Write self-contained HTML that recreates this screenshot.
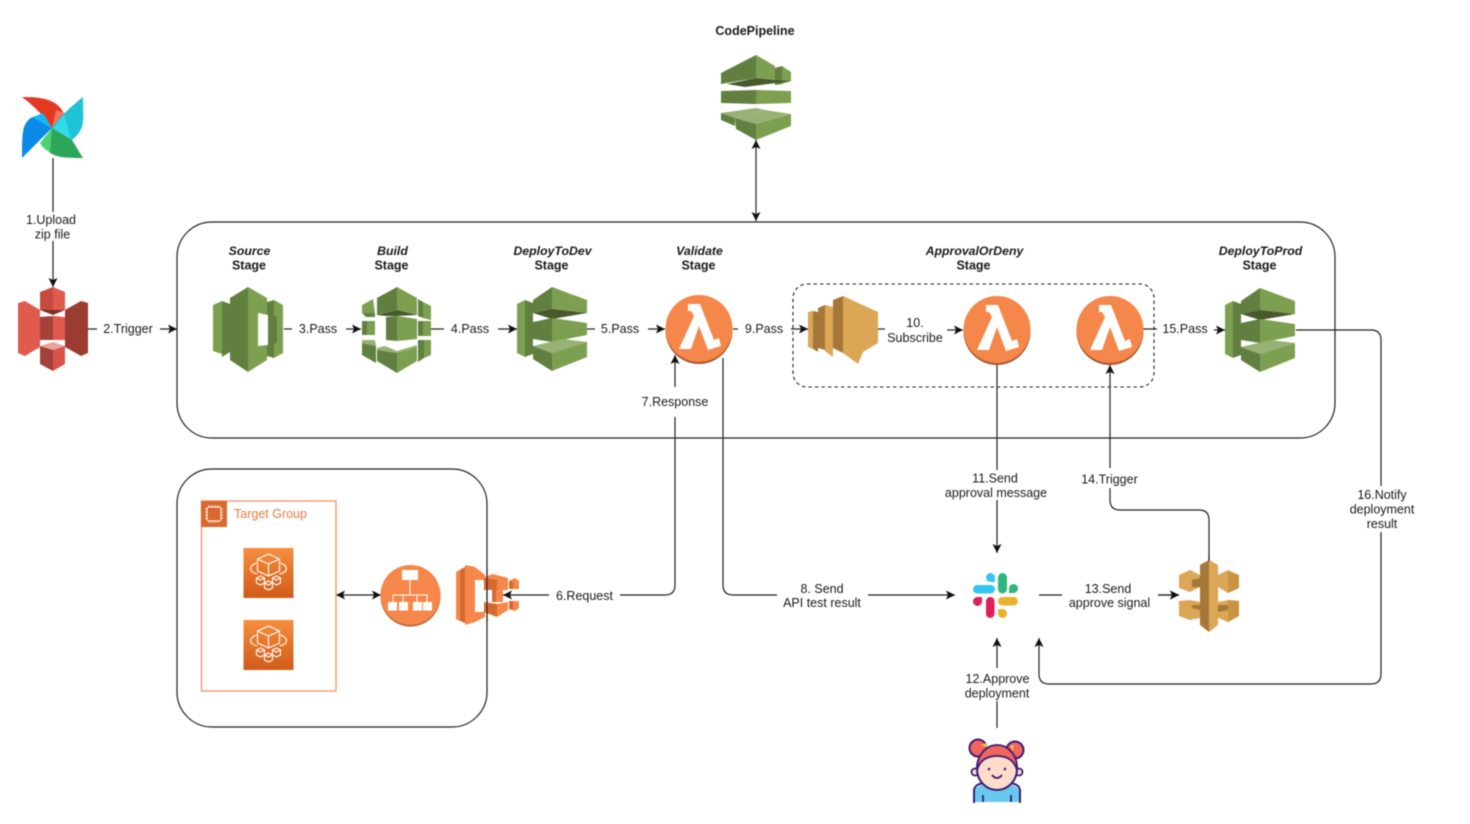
<!DOCTYPE html>
<html><head><meta charset="utf-8"><style>
html,body{margin:0;padding:0;background:#fff;width:1470px;height:824px;overflow:hidden}
svg{display:block;filter:blur(.45px)}
text{font-family:"Liberation Sans",sans-serif;font-size:12.5px;fill:#1a1a1a;text-anchor:middle}
.b{font-weight:bold}.bi{font-weight:bold;font-style:italic;font-size:12.3px}
.e{fill:none;stroke:#222;stroke-width:1.2}
.a{marker-end:url(#ar)}
.d{marker-start:url(#as);marker-end:url(#ar)}
.gl{fill:#7da050}.gd{fill:#618040}.gk{fill:#48592e}.gt{fill:#98b274}
.w{fill:none;stroke:#fff;stroke-width:1.1}
.ol{fill:#f5874a}.od{fill:#d46a2e}
.yl{fill:#dba656}.yd{fill:#a5783a}.ym{fill:#c8943f}
</style></head><body>
<svg width="1470" height="824" viewBox="0 0 1470 824" xmlns="http://www.w3.org/2000/svg">
<defs>
<marker id="ar" markerUnits="userSpaceOnUse" markerWidth="12" markerHeight="12" refX="10" refY="6" orient="auto"><path d="M10,6 L1,1.5 L3,6 L1,10.5Z" fill="#111"/></marker>
<marker id="as" markerUnits="userSpaceOnUse" markerWidth="12" markerHeight="12" refX="2" refY="6" orient="auto"><path d="M2,6 L11,1.5 L9,6 L11,10.5Z" fill="#111"/></marker>
<linearGradient id="og" x1="0" y1="0" x2="0" y2="1"><stop offset="0" stop-color="#f78e3d"/><stop offset="1" stop-color="#d05c1a"/></linearGradient>
<g id="lam">
<circle cx="0" cy="1.5" r="33.5" fill="#a9532c"/>
<circle cx="0" cy="-.5" r="33.5" fill="#f5874a"/>
<path d="M-11,-25H1L15,11L20,9L22,17L9,21L0,-3L-8,20H-20L-5,-13L-8,-18H-11Z" fill="#fff"/>
</g>
<g id="deploy">
<polygon class="gl" points="517,304 525,300 525,357 517,353"/>
<polygon class="gd" points="525,300 533,303 533,354 525,357"/>
<polygon class="gd" points="533,300 552,287 552,309 533,313"/>
<polygon class="gl" points="552,287 587,300 587,313 552,309"/>
<polygon class="gk" points="533,313 552,309 587,313 552,319"/>
<polygon class="gd" points="533,322 552,318 552,342 533,339"/>
<polygon class="gl" points="552,318 587,323 587,335 552,342"/>
<polygon class="gt" points="533,346 563,339 587,342 552,353"/>
<polygon class="gd" points="533,346 552,353 552,371 533,359"/>
<polygon class="gl" points="552,353 587,342 587,357 552,371"/>
</g>
<g id="fargate">
<rect width="50" height="50" fill="url(#og)"/>
<path class="w" d="M25,6 L36,11 V23 L25,28 L14,23 V11Z M14,11 L25,16 L36,11 M25,16 V28"/>
<path class="w" d="M13,15 C5,18 5,24 14,26 M37,15 C45,18 45,24 36,26"/>
<path class="w" d="M13,30 l4,-2 l4,2 v5 l-4,2 l-4,-2Z M21,35 l4,-2 l4,2 v5 l-4,2 l-4,-2Z M29,30 l4,-2 l4,2 v5 l-4,2 l-4,-2Z M13,30 l4,2 l4,-2 M21,35 l4,2 l4,-2 M29,30 l4,2 l4,-2"/>
</g>
</defs>

<rect width="1470" height="824" fill="#fff"/>

<!-- containers -->
<rect x="177" y="222" width="1158" height="216" rx="35" fill="none" stroke="#222" stroke-width="1.2"/>
<rect x="177" y="469" width="310" height="258" rx="35" fill="none" stroke="#222" stroke-width="1.2"/>
<rect x="793" y="284" width="361" height="103" rx="14" fill="none" stroke="#222" stroke-width="1.1" stroke-dasharray="3.5 3"/>

<!-- connectors -->
<path class="e" d="M53,158V212"/><path class="e a" d="M53,241V287"/>
<path class="e" d="M88,329H97"/><path class="e a" d="M160,329H177"/>
<path class="e" d="M284,329H292"/><path class="e a" d="M346,329H361"/>
<path class="e" d="M431,329H444"/><path class="e a" d="M498,329H517"/>
<path class="e" d="M587,329H595"/><path class="e a" d="M648,329H665"/>
<path class="e" d="M733,329H738"/><path class="e a" d="M791,329H808"/>
<path class="e" d="M878,329H885"/><path class="e a" d="M947,330H963"/>
<path class="e" d="M1143,329H1157"/><path class="e a" d="M1214,330H1225"/>
<path class="e d" d="M756,140V221"/>
<path class="e d" d="M336,595H381"/>
<path class="e" d="M620,595H665Q675,595 675,585V417"/><path class="e a" d="M675,387V355"/>
<path class="e" d="M723,358V585Q723,595 733,595H777"/><path class="e a" d="M868,595H955"/>
<path class="e" d="M997,365V470"/><path class="e a" d="M997,500V553"/>
<path class="e" d="M1209,560V520Q1209,510 1199,510H1120Q1110,510 1110,500V488"/><path class="e a" d="M1110,468V365"/>
<path class="e" d="M1039,595H1062"/><path class="e a" d="M1158,595H1179"/>
<path class="e" d="M997,728V701"/><path class="e a" d="M997,668V638"/>
<path class="e" d="M1296,330H1371Q1381,330 1381,340V486"/><path class="e a" d="M1381,532V674Q1381,684 1371,684H1049Q1039,684 1039,674V638"/>

<!-- airflow -->
<path d="M22,97C38,97 56,98 63,112L52,128C44,116 34,106 22,97Z" fill="#e43921"/>
<path d="M56,110L65,113 52,128Z" fill="#f4735f"/>
<path d="M83,97C83,112 84,120 82,127 78,136 74,138 72,140L52,128C60,116 72,106 83,97Z" fill="#1cc4d6"/>
<path d="M53,129L64,114 71,139Z" fill="#2fdcea"/>
<path d="M83,158C68,158 56,158 49,152 47,145 47,140 48,135L52,128 72,140C76,146 79,152 83,158Z" fill="#2ea65a"/>
<path d="M52,128L40,143Q44,150 50,152Z" fill="#4fd36f"/>
<path d="M22,158C22,144 22,134 24,127 27,120 30,118 33,117L52,128C42,138 32,148 22,158Z" fill="#0a8be8"/>
<path d="M33,117L43,113 52,128Z" fill="#12b9f2"/>

<!-- S3 -->
<polygon fill="#e05a4d" points="18,303 25,301 40,310 40,347 25,356 18,353"/>
<polygon fill="#9a3c32" points="88,303 81,301 65,310 65,347 81,356 88,353"/>
<polygon fill="#c8493d" points="40,292 53,287 53,310 40,310"/>
<polygon fill="#e05a4d" points="53,287 65,292 65,310 53,310"/>
<polygon fill="#7d2f26" points="40,310 65,310 53,315"/>
<polygon fill="#a3413a" points="40,317 53,316 53,340 40,340"/>
<polygon fill="#e05a4d" points="53,316 65,317 65,340 53,340"/>
<polygon fill="#e7a59c" points="40,346 53,342 65,346 53,350"/>
<polygon fill="#a3413a" points="40,346 53,350 53,371 40,364"/>
<polygon fill="#d9534a" points="53,350 65,346 65,364 53,371"/>

<!-- CodeCommit -->
<polygon class="gl" points="213,305 222,301 222,354 213,351"/>
<polygon class="gd" points="222,301 230,304 230,352 222,357"/>
<polygon class="gd" points="230,298 248,287 248,372 230,360"/>
<polygon class="gl" points="248,287 267,298 267,360 248,372"/>
<polygon class="gd" points="267,302 274,300 274,358 267,356"/>
<polygon class="gl" points="274,300 283,305 283,353 274,358"/>
<polygon fill="#fff" points="258,313 268,315 268,345 258,346"/>
<polygon class="gd" points="268,313 277,317 277,343 268,346"/>

<!-- CodeBuild -->
<polygon class="gd" points="377,298 397,287 397,310 377,315"/>
<polygon class="gl" points="397,287 417,298 417,315 397,310"/>
<polygon class="gk" points="377,315 397,310 417,315 397,316 386,316"/>
<polygon class="gl" points="362,305 373,299 375,313 362,313"/>
<polygon class="gd" points="362,313 375,313 375,317 366,317"/>
<polygon class="gd" points="418,299 423,302 423,318 418,316"/>
<polygon class="gl" points="423,302 431,306 431,320 423,318"/>
<polygon class="gd" points="362,321 367,321 367,335 362,335"/>
<polygon class="gl" points="367,321 375,321 375,335 367,335"/>
<polygon class="gd" points="386,317 397,316 397,341 386,340"/>
<polygon class="gl" points="397,316 417,319 417,339 397,341"/>
<polygon class="gd" points="418,321 423,321 423,336 418,336"/>
<polygon class="gl" points="423,321 431,321 431,336 423,336"/>
<polygon class="gt" points="362,340 375,340 376,346 362,343"/>
<polygon class="gd" points="362,343 376,346 376,363 362,355"/>
<polygon class="gt" points="377,348 385,346 397,351 417,345 417,347 397,353 377,350"/>
<polygon class="gd" points="377,350 397,353 397,373 377,361"/>
<polygon class="gl" points="397,353 417,347 417,361 397,373"/>
<polygon class="gd" points="418,340 424,340 424,358 418,362"/>
<polygon class="gl" points="424,340 431,340 431,355 424,358"/>

<!-- CodeDeploy -->
<use href="#deploy"/>
<use href="#deploy" x="708" y="1"/>

<!-- CodePipeline -->
<polygon class="gd" points="775,68 782,66 782,84 775,85"/>
<polygon class="gl" points="782,66 791,72 791,81 782,84"/>
<polygon class="gk" points="727,84 756,78 775,80 791,81 745,87"/>
<polygon class="gd" points="721,73 756,55 756,78 721,84"/>
<polygon class="gl" points="756,55 775,66 775,80 756,78"/>
<polygon class="gd" points="721,91 756,90 756,104 721,103"/>
<polygon class="gl" points="756,90 791,91 791,103 756,104"/>
<polygon class="gt" points="721,113 756,108 765,110 735,118"/>
<polygon class="gd" points="721,113 735,118 735,126 721,120"/>
<polygon class="gt" points="735,118 765,110 791,114 756,124"/>
<polygon class="gd" points="735,118 756,124 756,140 736,129"/>
<polygon class="gl" points="756,124 791,114 791,126 756,140"/>

<!-- lambdas -->
<use href="#lam" x="699" y="329"/>
<use href="#lam" x="997" y="330"/>
<use href="#lam" x="1110" y="330"/>

<!-- SNS -->
<polygon class="yl" points="808,312 813,311 813,349 808,347"/>
<polygon class="yd" points="813,311 818,312 818,352 813,349"/>
<polygon class="yd" points="818,308 825,305 825,350 818,348"/>
<polygon class="yl" points="825,305 833,307 833,357 825,351"/>
<polygon class="yd" points="833,300 843,296 843,353 833,348"/>
<polygon class="yl" points="843,296 878,312 878,343 863,352 858,364 843,353"/>

<!-- Target group -->
<rect x="201.5" y="501" width="134.500" height="190" fill="none" stroke="#ef9a72" stroke-width="1.4"/>
<rect x="201" y="501" width="26" height="26" fill="#d9692f"/>
<rect x="207" y="507" width="14" height="14" rx="2" fill="none" stroke="#fff" stroke-width="1"/>
<path d="M209,505v2M212,505v2M215,505v2M218,505v2M209,521v2M212,521v2M215,521v2M218,521v2M205,509h2M205,512h2M205,515h2M205,518h2M221,509h2M221,512h2M221,515h2M221,518h2" stroke="#fff" stroke-width=".7"/>
<text x="234" y="518" style="text-anchor:start;fill:#e07c45">Target Group</text>
<use href="#fargate" x="243.500" y="548"/>
<use href="#fargate" x="243.500" y="620"/>

<!-- ALB -->
<circle cx="410.500" cy="596.500" r="30" fill="#b5602f"/>
<circle cx="410.500" cy="595" r="30" fill="#f5874a"/>
<rect x="402" y="570" width="16" height="10" fill="#fff"/>
<path d="M410,580V590M393,602V595H427V602M403,602V595M417,602V595M410,590V595" stroke="#fff" fill="none" stroke-width="1"/>
<rect x="388" y="602" width="9" height="8.500" fill="#fff"/><rect x="399" y="602" width="9" height="8.500" fill="#fff"/>
<rect x="413" y="602" width="9" height="8.500" fill="#fff"/><rect x="423" y="602" width="9" height="8.500" fill="#fff"/>

<!-- orange gateway -->
<polygon class="od" points="456,572 465,567 465,623 456,619"/>
<polygon class="ol" points="456,572 460,570 460,621 456,619"/>
<polygon class="ol" points="465,565 475,567 485,575 485,580 475,580 475,612 485,612 485,617 475,622 465,625"/>
<polygon class="ol" points="484,577 493,574 508,578 508,590 484,590"/>
<polygon class="od" points="484,578 497,580 497,590 484,590"/>
<polygon class="ol" points="509,581 515,578 519,581 519,589 509,589"/>
<polygon class="od" points="509,581 513,581 513,589 509,589"/>
<rect x="492" y="590" width="4" height="12" class="od"/><rect x="496" y="590" width="7" height="12" class="ol"/>
<polygon class="od" points="484,602 497,604 497,617 484,612"/>
<polygon class="ol" points="497,604 497,617 508,610 508,602"/>
<polygon class="ol" points="509,601 519,601 519,608 515,611 509,609"/>
<polygon class="od" points="509,601 513,601 513,610 509,609"/>
<path class="e" d="M487,569V622" stroke-opacity=".9"/>
<path class="e a" d="M549,595H503"/>

<!-- Slack -->
<rect x="973" y="585" width="22" height="8.500" rx="4.250" fill="#36c5f0"/>
<path d="M986,577.500a4.500,4.500 0 1 1 9,0V582H990.500A4.500,4.500 0 0 1 986,577.500Z" fill="#36c5f0"/>
<rect x="998" y="573" width="9" height="20.500" rx="4.500" fill="#2eb67d"/>
<path d="M1009,588.500V593h4.500a4.500,4.500 0 1 0 -4.500,-4.500Z" fill="#2eb67d"/>
<rect x="986" y="597" width="8.500" height="21" rx="4.250" fill="#e01e5a"/>
<path d="M982,597v4.500a4.500,4.500 0 1 1 -4.500,-4.500Z" fill="#e01e5a"/>
<rect x="998" y="597" width="20" height="8.500" rx="4.250" fill="#ecb22e"/>
<path d="M998,609h4a4.500,4.500 0 1 1 -4,4.500Z" fill="#ecb22e"/>

<!-- API Gateway -->
<polygon class="yl" points="1179,575 1190,570 1200,575 1200,587 1190,592 1179,588"/>
<polygon class="yd" points="1192,580 1200,578 1200,587 1192,587"/>
<polygon class="yl" points="1218,575 1228,570 1239,575 1239,588 1228,593 1218,587"/>
<polygon class="ym" points="1228,572 1239,575 1239,588 1228,593"/>
<polygon class="yl" points="1179,601 1190,600 1200,602 1200,618 1190,620 1179,616"/>
<polygon class="yd" points="1192,605 1200,605 1200,610 1192,608"/>
<polygon class="yl" points="1218,602 1228,600 1239,601 1239,616 1228,622 1218,618"/>
<polygon class="yd" points="1218,605 1228,605 1228,610 1218,612"/>
<polygon class="ym" points="1228,600 1239,601 1239,616 1228,622"/>
<polygon class="yd" points="1200,565 1209,560 1209,632 1200,625"/>
<polygon class="yl" points="1209,560 1218,565 1218,625 1209,632"/>
<path class="e" d="M1209,556V561"/>
<path class="e a" d="M1158,595H1179"/>

<!-- Person -->
<circle cx="978" cy="748" r="8.500" fill="#f2655a" stroke="#3b1d7a" stroke-width="2"/>
<circle cx="1015" cy="750" r="8.500" fill="#f2655a" stroke="#3b1d7a" stroke-width="2"/>
<path d="M981,745l5,-2 2,5z" fill="#f5c542"/><path d="M1010,746l4,-1 -1,6z" fill="#f5c542"/>
<path d="M974,802V793C974,787 982,783 997,783C1012,783 1020,787 1020,793V802Z" fill="#69c8ee"/>
<path d="M974,803V790C975,785 979,784 983,783M1020,803V790C1019,785 1015,784 1011,783" fill="none" stroke="#3b1d7a" stroke-width="2"/>
<circle cx="975" cy="772" r="3.500" fill="#fddcc9" stroke="#3b1d7a" stroke-width="1.800"/>
<circle cx="1019" cy="772" r="3.500" fill="#fddcc9" stroke="#3b1d7a" stroke-width="1.800"/>
<ellipse cx="997" cy="769" rx="20" ry="21" fill="#fddcc9" stroke="#3b1d7a" stroke-width="2"/>
<path d="M977,770C976,755 987,745 997,745C1008,745 1018,755 1017,770C1014,760 1007,756 997,756C987,756 980,760 977,770Z" fill="#f2655a" stroke="#3b1d7a" stroke-width="1.800"/>
<circle cx="989" cy="769" r="1.300" fill="#3b1d7a"/><circle cx="1005" cy="769" r="1.300" fill="#3b1d7a"/>
<path d="M992,775Q997,781 1002,775" fill="none" stroke="#3b1d7a" stroke-width="1.800"/>
<path d="M983,802V795M1011,802V795" stroke="#3b1d7a" stroke-width="1.800"/>

<!-- labels -->
<text class="b" x="755" y="35">CodePipeline</text>
<text x="51" y="224">1.Upload</text><text x="52.500" y="238.500">zip file</text>
<text x="128" y="333">2.Trigger</text>
<text x="318" y="333">3.Pass</text><text x="470" y="333">4.Pass</text><text x="620" y="333">5.Pass</text>
<text x="764" y="333">9.Pass</text><text x="1185" y="333">15.Pass</text>
<text x="915" y="327">10.</text><text x="915" y="342">Subscribe</text>
<text class="bi" x="249.500" y="255">Source</text><text class="b" x="249" y="269.500">Stage</text>
<text class="bi" x="392.500" y="255">Build</text><text class="b" x="391.500" y="269.500">Stage</text>
<text class="bi" x="552.500" y="255">DeployToDev</text><text class="b" x="551.500" y="269.500">Stage</text>
<text class="bi" x="699.500" y="255">Validate</text><text class="b" x="698.500" y="269.500">Stage</text>
<text class="bi" x="974.500" y="255">ApprovalOrDeny</text><text class="b" x="973.500" y="269.500">Stage</text>
<text class="bi" x="1260.500" y="255">DeployToProd</text><text class="b" x="1259.500" y="269.500">Stage</text>
<text x="675" y="406">7.Response</text>
<text x="584.500" y="600">6.Request</text>
<text x="822" y="593">8. Send</text><text x="822" y="607">API test result</text>
<text x="995" y="482.500">11.Send</text><text x="996" y="497">approval message</text>
<text x="1109.500" y="483.500">14.Trigger</text>
<text x="1108" y="593">13.Send</text><text x="1109.500" y="607">approve signal</text>
<text x="997.500" y="683">12.Approve</text><text x="997" y="697.500">deployment</text>
<text x="1382" y="499">16.Notify</text><text x="1382" y="513.500">deployment</text><text x="1382" y="528">result</text>
</svg>
</body></html>
